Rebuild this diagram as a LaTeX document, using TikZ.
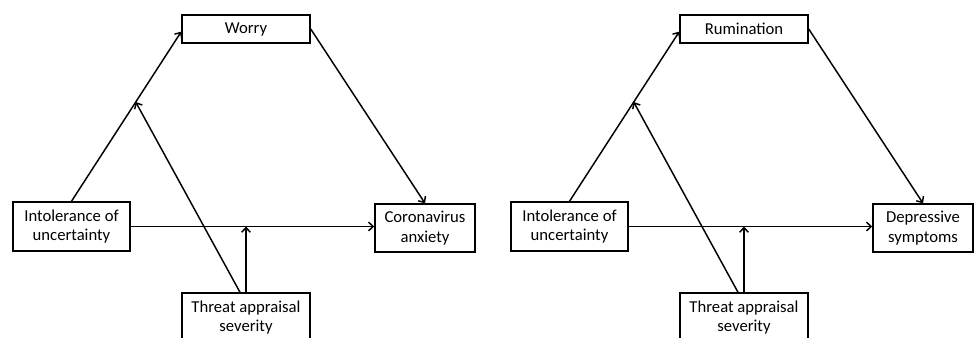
\documentclass[tikz,border=0pt]{standalone}
\usepackage{fontspec}
\setmainfont{Carlito}
\usetikzlibrary{arrows.meta}

\begin{document}
\begin{tikzpicture}[x=0.75pt, y=-0.75pt, line width=1.1pt, >={Straight Barb[length=3.5pt,width=6.5pt]},
    box/.style={draw, line width=1.1pt, align=center, inner sep=0pt, font=\fontsize{12.5}{14.5}\selectfont}]
    \useasboundingbox (0,0) rectangle (974,337);
    \foreach \p/\off/\med/\out in {1/0/Worry/{Coronavirus\\anxiety}, 2/498/Rumination/{Depressive\\symptoms}} {
        % Boxes
        \node[box, minimum width=96pt, minimum height=21pt] (Med-\p) at (\off+246,29) {\med};
        \node[box, minimum width=87.75pt, minimum height=36.75pt] (IU-\p) at (\off+71.5,226.5) {Intolerance of\\uncertainty};
        \node[box, minimum width=75pt, minimum height=36pt] (Out-\p) at (\off+425,228) {\out};
        \node[box, minimum width=96pt, minimum height=36.75pt] (Threat-\p) at (\off+246,317.5) {Threat appraisal\\severity};
        % Arrows
        \draw[->] (IU-\p.north) -- coordinate[pos=0.585] (Mod-\p) ([yshift=-2pt]Med-\p.west);
        \draw[->] (Med-\p.east) -- (Out-\p.north);
        \draw[->] (IU-\p.east) -- (IU-\p.east -| Out-\p.west);
        \draw[->] ([xshift=-4.5pt]Threat-\p.north) -- (Mod-\p);
        \draw[->] (Threat-\p.north) -- (Threat-\p.north |- IU-\p.east);
    }
\end{tikzpicture}
\end{document}
